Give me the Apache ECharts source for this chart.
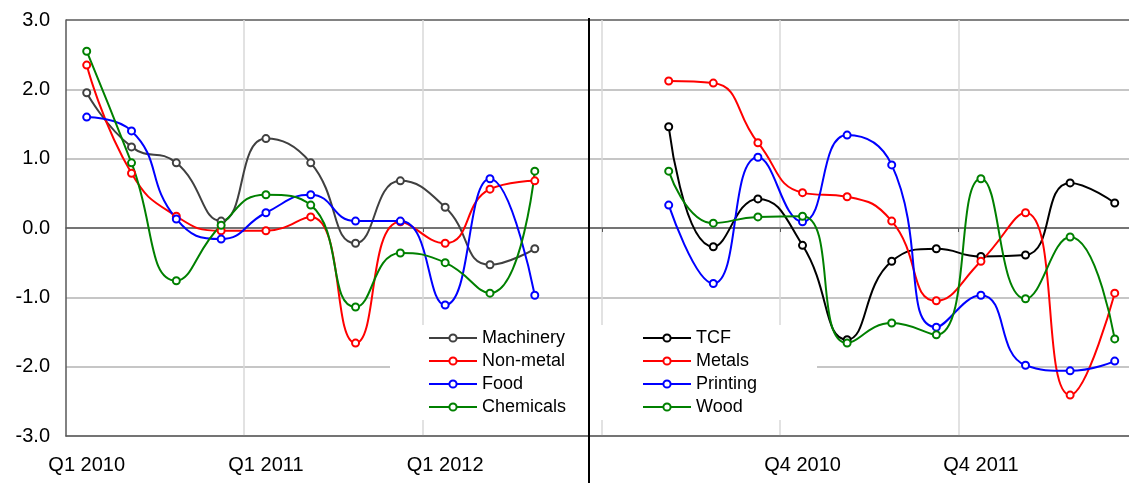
<!DOCTYPE html>
<html>
<head>
<meta charset="utf-8">
<script src="https://cdn.jsdelivr.net/npm/echarts@6/dist/echarts.min.js"></script>
<style>
  html, body { margin: 0; padding: 0; background: #fff; }
  #chart { width: 1129px; height: 483px; }
</style>
</head>
<body>
<div id="chart"></div>
<script>
// quarter index 0 = Q1 2010 ... 10 = Q3 2012
var quarters = ['Q1 2010', 'Q2 2010', 'Q3 2010', 'Q4 2010', 'Q1 2011', 'Q2 2011',
  'Q3 2011', 'Q4 2011', 'Q1 2012', 'Q2 2012', 'Q3 2012'];
var leftTicks = [0, 4, 8];
var rightTicks = [3, 7];

// left panel
var machinery = [1.95, 1.17, 0.94, 0.10, 1.29, 0.94, -0.22, 0.68, 0.30, -0.53, -0.30];
var nonMetal  = [2.35, 0.79, 0.17, -0.04, -0.04, 0.16, -1.66, 0.09, -0.22, 0.56, 0.68];
var food      = [1.60, 1.40, 0.13, -0.16, 0.22, 0.48, 0.10, 0.10, -1.11, 0.71, -0.97];
var chemicals = [2.55, 0.94, -0.76, 0.04, 0.48, 0.33, -1.14, -0.36, -0.50, -0.94, 0.82];

// right panel
var tcf      = [1.46, -0.27, 0.42, -0.25, -1.61, -0.48, -0.30, -0.41, -0.39, 0.65, 0.36];
var metals   = [2.12, 2.09, 1.23, 0.51, 0.45, 0.10, -1.05, -0.48, 0.22, -2.41, -0.94];
var printing = [0.33, -0.80, 1.02, 0.09, 1.34, 0.91, -1.43, -0.97, -1.98, -2.06, -1.92];
var wood     = [0.82, 0.07, 0.16, 0.17, -1.66, -1.37, -1.54, 0.71, -1.02, -0.13, -1.60];

var dark = '#595959';
var grey = '#b3b3b3';
var light = '#d9d9d9';
var font = '"Liberation Sans", Arial, sans-serif';

function pairs(arr) {
  return arr.map(function (v, i) { return [i, v]; });
}

function mkSeries(name, data, color, xi, yi) {
  return {
    name: name,
    type: 'line',
    xAxisIndex: xi,
    yAxisIndex: yi,
    data: pairs(data),
    smooth: 0.5,
    symbol: 'emptyCircle',
    symbolSize: 7,
    lineStyle: { color: color, width: 2 },
    itemStyle: { color: color, borderWidth: 1.5 },
    z: 3
  };
}

function labelAxis(grid, min, max, splits, labels) {
  return {
    type: 'value', gridIndex: grid, min: min, max: max, position: 'bottom',
    axisLine: { show: true, onZero: false, lineStyle: { color: dark, width: 1.5 } },
    axisTick: { show: false, customValues: splits },
    splitLine: { show: true, lineStyle: { color: light, width: 1.5 } },
    axisLabel: {
      customValues: labels, color: '#000', fontSize: 20, fontFamily: font, margin: 19,
      formatter: function (v) { return quarters[Math.round(v)]; }
    }
  };
}

function zeroAxis(grid, min, max, splits) {
  return {
    type: 'value', gridIndex: grid, min: min, max: max, position: 'top',
    axisLine: { show: true, onZero: true, lineStyle: { color: dark, width: 1.5 } },
    axisTick: { show: true, inside: true, length: 4, customValues: splits, lineStyle: { color: dark } },
    splitLine: { show: false },
    axisLabel: { show: false }
  };
}

function yAx(grid, showLabels) {
  return {
    type: 'value', gridIndex: grid, min: -3, max: 3, interval: 1, position: 'left',
    axisLine: { show: showLabels, onZero: false, lineStyle: { color: dark, width: 1.5 } },
    axisTick: { show: false },
    splitLine: { show: true, lineStyle: { color: [grey, grey, grey, grey, grey, grey, dark], width: 1.5 } },
    axisLabel: {
      show: showLabels, color: '#000', fontSize: 20, fontFamily: font, margin: 16,
      formatter: function (v) { return v.toFixed(1); }
    }
  };
}

function legend(names, left, padding) {
  return {
    data: names,
    orient: 'vertical',
    left: left,
    top: 325,
    itemWidth: 48,
    itemHeight: 9,
    itemGap: 5,
    padding: padding,
    backgroundColor: '#fff',
    textStyle: { color: '#000', fontSize: 18, fontFamily: font },
    selectedMode: false
  };
}

var chart = echarts.init(document.getElementById('chart'), null, { renderer: 'canvas' });

chart.setOption({
  animation: false,
  backgroundColor: '#fff',
  textStyle: { fontFamily: font },
  grid: [
    { left: 66, top: 20, width: 523, height: 416 },
    { left: 589, top: 20, width: 540, height: 416 }
  ],
  xAxis: [
    labelAxis(0, -0.462, 11.21, [3.5, 7.5], leftTicks),
    zeroAxis(0, -0.462, 11.21, [3.5, 7.5]),
    labelAxis(1, -1.787, 10.32, [-1.5, 2.5, 6.5], rightTicks),
    zeroAxis(1, -1.787, 10.32, [-1.5, 2.5, 6.5])
  ],
  yAxis: [yAx(0, true), yAx(1, false)],
  legend: [
    legend(['Machinery', 'Non-metal', 'Food', 'Chemicals'], 390, [4, 25, 4, 38]),
    legend(['TCF', 'Metals', 'Printing', 'Wood'], 590, [4, 60, 4, 52])
  ],
  graphic: [{
    type: 'line',
    shape: { x1: 589, y1: 18, x2: 589, y2: 483 },
    style: { stroke: '#000', lineWidth: 2 },
    z: 10
  }],
  series: [
    mkSeries('Machinery', machinery, '#404040', 0, 0),
    mkSeries('Non-metal', nonMetal, '#ff0000', 0, 0),
    mkSeries('Food', food, '#0000ff', 0, 0),
    mkSeries('Chemicals', chemicals, '#008000', 0, 0),
    mkSeries('TCF', tcf, '#000000', 2, 1),
    mkSeries('Metals', metals, '#ff0000', 2, 1),
    mkSeries('Printing', printing, '#0000ff', 2, 1),
    mkSeries('Wood', wood, '#008000', 2, 1)
  ]
});
</script>
</body>
</html>
